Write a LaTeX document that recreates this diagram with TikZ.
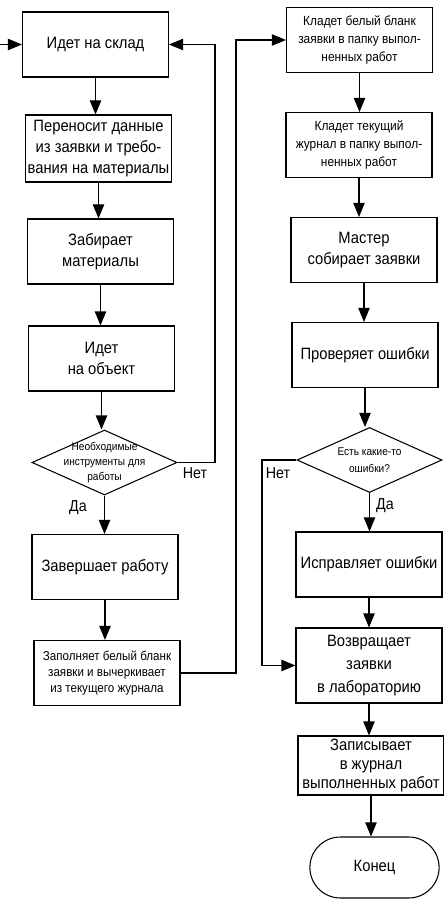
\documentclass[tikz,border=0pt]{standalone}
\usepackage{fontspec}
\setmainfont{Liberation Sans}[FakeStretch=0.9]
\usetikzlibrary{arrows.meta, shapes.geometric, shapes.misc}

\begin{document}
\begin{tikzpicture}[x=0.03cm, y=-0.03cm, -{Triangle[length=4.2mm, width=3.4mm]},
			line width=0.9pt,
			box/.style={draw, rectangle, align=center, inner sep=1pt, minimum width=4.38cm,
				minimum height=1.95cm, font=\fontsize{14}{18}\selectfont},
			smallbox/.style={box, font=\fontsize{11.3}{15}\selectfont},
			decision/.style={draw, diamond, inner sep=0pt, minimum width=4.35cm, minimum height=1.95cm},
			dtext/.style={align=center, font=\fontsize{9.6}{13}\selectfont},
			answer/.style={font=\fontsize{13.5}{15}\selectfont}]
			
			\useasboundingbox (0,0) rectangle (443,901);
			
			% Colonna sinistra
			\node[box] (l1) at (95.5,44.5) {Идет на склад};
			\node[box, minimum height=2.01cm] (l2) at (98.5,148.5) {Переносит данные\\из заявки и требо-\\вания на материалы};
			\node[box] (l3) at (100.5,251.5) {Забирает\\материалы};
			\node[box] (l4) at (101.5,358.5) {Идет\\на объект};
			\node[decision] (l5) at (104.5,462.5) {};
			\node[dtext] (l5t) at (l5) {Необходимые\\инструменты для\\работы};
			\node[box] (l6) at (105,567) {Завершает работу};
			\node[box, font=\fontsize{11}{13.5}\selectfont] (l7) at (107,673) {Заполняет белый бланк\\заявки и вычеркивает\\из текущего журнала};
			
			% Colonna destra
			\node[smallbox] (r1) at (359.5,40) {Кладет белый бланк\\заявки в папку выпол-\\ненных работ};
			\node[smallbox] (r2) at (359,145) {Кладет текущий\\журнал в папку выпол-\\ненных работ};
			\node[box] (r3) at (364,250) {Мастер\\собирает заявки};
			\node[box] (r4) at (365,355) {Проверяет ошибки};
			\node[decision] (r5) at (369.5,460) {};
			\node[dtext, font=\fontsize{9.6}{14}\selectfont] (r5t) at (r5) {Есть какие-то\\ошибки?};
			\node[box] (r6) at (369,564.5) {Исправляет ошибки};
			\node[box, minimum height=2.25cm, font=\fontsize{14}{19.5}\selectfont] (r7) at (369,665.5) {Возвращает\\заявки\\в лабораторию};
			\node[box, minimum height=1.77cm, font=\fontsize{14}{16}\selectfont] (r8) at (371,765.5) {Записывает\\в журнал\\выполненных работ};
			\node[draw, rounded rectangle, minimum width=4.11cm, minimum height=1.83cm,
				font=\fontsize{14}{17}\selectfont] (r9) at (374.5,867.5) {Конец};
			
			% --- Переходы слева ---
			\coordinate (in) at (0,44.5);
			\draw (in) -- (l1);
			\draw (l1) -- (l1 |- l2.north);
			\draw (l2) -- (l2 |- l3.north);
			\draw (l3) -- (l3 |- l4.north);
			\draw (l4) -- (l4 |- l5.north);
			\draw (l5) -- (l5 |- l6.north);
			\draw (l6) -- (l6 |- l7.north);
			
			% Нет: назад на склад
			\coordinate (c1) at (215,462.5);
			\draw (l5.east) -- (c1) -- (c1 |- l1.east) -- (l1.east);
			\node[answer] (net1) at (195,473) {Нет};
			\node[answer] (da1) at (78,508) {Да};
			
			% Переход в правый столбец
			\coordinate (c2) at (236,673);
			\draw (l7.east) -- (c2) -- (c2 |- r1.west) -- (r1.west);
			
			% --- Переходы справа ---
			\draw (r1) -- (r1 |- r2.north);
			\draw (r2) -- (r2 |- r3.north);
			\draw (r3) -- (r3 |- r4.north);
			\draw (r4) -- (r4 |- r5.north);
			\draw (r5) -- (r5 |- r6.north);
			\draw (r6) -- (r6 |- r7.north);
			\draw (r7) -- (r7 |- r8.north);
			\draw (r8) -- (r8 |- r9.north);
			
			% Нет: сразу в лабораторию
			\coordinate (c3) at (262,460);
			\draw (r5.west) -- (c3) -- (c3 |- r7.west) -- (r7.west);
			\node[answer] (net2) at (278,473) {Нет};
			\node[answer] (da2) at (385,506) {Да};
		\end{tikzpicture}
\end{document}
